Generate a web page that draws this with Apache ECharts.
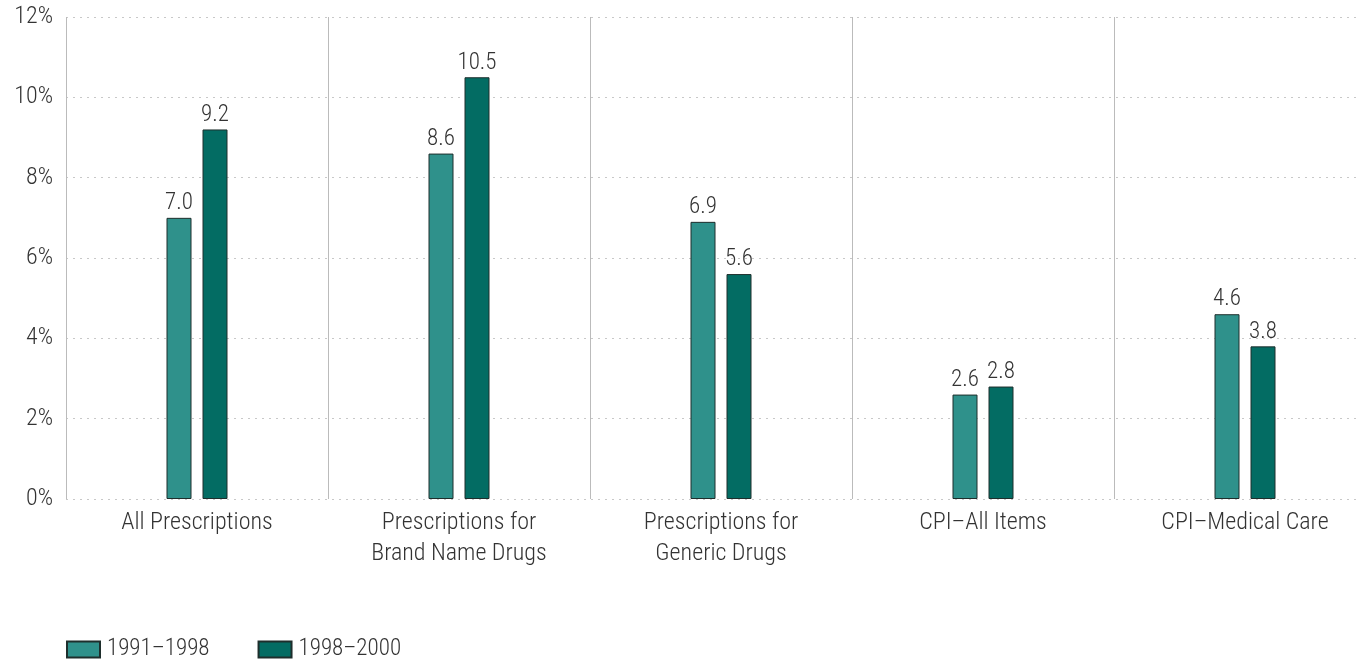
<!DOCTYPE html>
<html><head><meta charset="utf-8">
<script src="https://cdn.jsdelivr.net/npm/echarts@6/dist/echarts.min.js"></script>
<style>html,body{margin:0;padding:0;background:#fff;}#c{width:1361px;height:662px;}</style>
</head><body><div id="c"></div>
<script>
var categories = ['All Prescriptions', 'Prescriptions for\nBrand Name Drugs', 'Prescriptions for\nGeneric Drugs', 'CPI\u2013All Items', 'CPI\u2013Medical Care'];
var seriesNames = ['1991\u20131998', '1998\u20132000'];
var values1991_1998 = [7.0, 8.6, 6.9, 2.6, 4.6];
var values1998_2000 = [9.2, 10.5, 5.6, 2.8, 3.8];
var yTicks = [0, 2, 4, 6, 8, 10, 12];

var FONT = "'Roboto Condensed', 'Liberation Sans Narrow', 'DejaVu Sans Condensed', 'Roboto', sans-serif";
var chart = echarts.init(document.getElementById('c'), null, {renderer: 'canvas'});
function mkSeries(name, data, color) {
  return {
    name: name, type: 'bar', data: data, barWidth: 25, barGap: '44%',
    itemStyle: {color: color, borderColor: '#1e2e2c', borderWidth: 1},
    label: {show: true, position: 'top', distance: 3, color: '#333', fontFamily: FONT, fontSize: 23, fontWeight: 300,
      formatter: function (p) { return p.value.toFixed(1); }}
  };
}
chart.setOption({
  animation: false,
  textStyle: {fontFamily: FONT},
  grid: {left: 66, top: 17, right: -15, bottom: 163, containLabel: false, outerBoundsMode: 'none'},
  legend: {
    data: seriesNames, left: 61, top: 633, itemWidth: 33, itemHeight: 16, itemGap: 48,
    textStyle: {fontFamily: FONT, fontSize: 23, fontWeight: 300, color: '#333', padding: [0, 0, 0, 2]}, icon: 'rect'
  },
  xAxis: {
    type: 'category', data: categories,
    axisLine: {show: false}, axisTick: {show: false},
    splitLine: {show: true, lineStyle: {color: '#bbbbbb', width: 1}},
    axisLabel: {fontFamily: FONT, fontSize: 24, fontWeight: 300, color: '#333', lineHeight: 31, margin: 8, interval: 0}
  },
  yAxis: {
    type: 'value', min: yTicks[0], max: yTicks[yTicks.length - 1], interval: 2,
    axisLine: {show: false}, axisTick: {show: false},
    splitLine: {show: true, lineStyle: {color: '#c8c8c8', type: [2, 5], width: 1}},
    axisLabel: {fontFamily: FONT, fontSize: 24, fontWeight: 300, color: '#333', margin: 13, formatter: '{value}%'}
  },
  series: [mkSeries(seriesNames[0], values1991_1998, '#2f918b'), mkSeries(seriesNames[1], values1998_2000, '#036c63')]
});
</script></body></html>
